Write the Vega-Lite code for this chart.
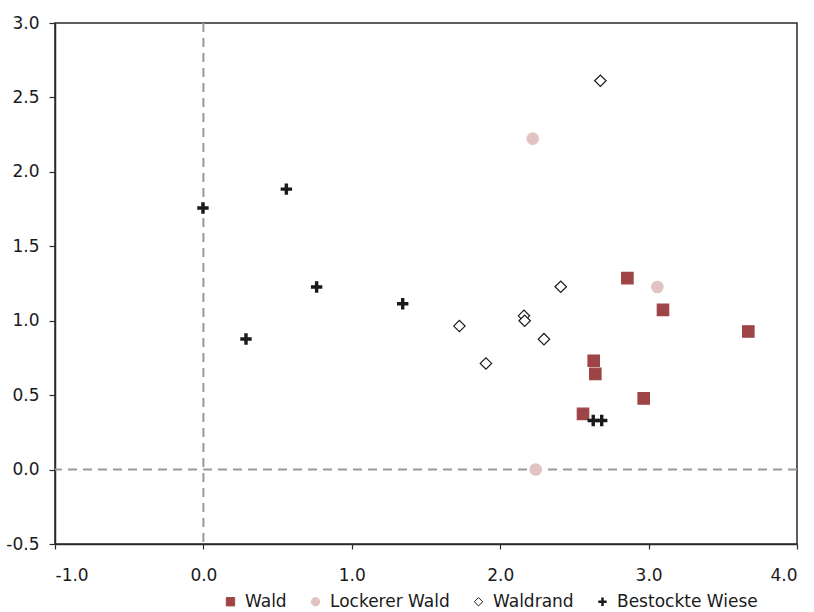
{
  "$schema": "https://vega.github.io/schema/vega-lite/v6.json",
  "width": 742,
  "height": 521,
  "autosize": {"type": "none"},
  "padding": {"left": 55, "top": 23, "right": 17, "bottom": 68},
  "config": {
    "font": "DejaVu Sans",
    "view": {"stroke": "#2a2a2a", "strokeWidth": 1.5},
    "axis": {
      "grid": false,
      "domainColor": "#2a2a2a",
      "domainWidth": 1.5,
      "tickColor": "#2a2a2a",
      "tickWidth": 1.2,
      "labelFont": "DejaVu Sans",
      "labelFontSize": 17,
      "labelColor": "#1a1a1a",
      "title": null
    },
    "legend": {"labelFont": "DejaVu Sans", "labelFontSize": 17, "labelColor": "#1a1a1a"}
  },
  "layer": [
    {
      "data": {"values": [{"v": 0}]},
      "mark": {"type": "rule", "color": "#9a9a9a", "strokeWidth": 2, "strokeDash": [9, 6]},
      "encoding": {"x": {"field": "v", "type": "quantitative", "title": null}}
    },
    {
      "data": {"values": [{"v": 0}]},
      "mark": {"type": "rule", "color": "#9a9a9a", "strokeWidth": 2, "strokeDash": [9, 6]},
      "encoding": {"y": {"field": "v", "type": "quantitative", "title": null}}
    },
    {
      "data": {
        "values": [
          {"typ": "Wald", "x": 2.857, "y": 1.286},
          {"typ": "Wald", "x": 3.097, "y": 1.073},
          {"typ": "Wald", "x": 3.672, "y": 0.928},
          {"typ": "Wald", "x": 2.630, "y": 0.731},
          {"typ": "Wald", "x": 2.641, "y": 0.643},
          {"typ": "Wald", "x": 2.967, "y": 0.478},
          {"typ": "Wald", "x": 2.558, "y": 0.374},
          {"typ": "Lockerer Wald", "x": 2.219, "y": 2.223},
          {"typ": "Lockerer Wald", "x": 3.059, "y": 1.226},
          {"typ": "Lockerer Wald", "x": 2.239, "y": 0.0},
          {"typ": "Waldrand", "x": 2.675, "y": 2.612},
          {"typ": "Waldrand", "x": 2.408, "y": 1.228},
          {"typ": "Waldrand", "x": 2.160, "y": 1.033},
          {"typ": "Waldrand", "x": 2.165, "y": 1.0},
          {"typ": "Waldrand", "x": 1.725, "y": 0.964},
          {"typ": "Waldrand", "x": 2.295, "y": 0.876},
          {"typ": "Waldrand", "x": 1.904, "y": 0.713},
          {"typ": "Bestockte Wiese", "x": -0.003, "y": 1.757},
          {"typ": "Bestockte Wiese", "x": 0.559, "y": 1.884},
          {"typ": "Bestockte Wiese", "x": 0.763, "y": 1.226},
          {"typ": "Bestockte Wiese", "x": 1.343, "y": 1.114},
          {"typ": "Bestockte Wiese", "x": 0.287, "y": 0.877},
          {"typ": "Bestockte Wiese", "x": 2.627, "y": 0.33},
          {"typ": "Bestockte Wiese", "x": 2.684, "y": 0.33}
        ]
      },
      "mark": {"type": "point", "opacity": 1, "fillOpacity": 1, "strokeOpacity": 1, "strokeWidth": 1.2, "size": 130},
      "encoding": {
        "x": {
          "field": "x",
          "type": "quantitative",
          "title": null,
          "scale": {"domain": [-1, 4], "nice": false, "zero": false},
          "axis": {"values": [-1, 0, 1, 2, 3, 4], "labelExpr": "replace(format(datum.value, '.1f'), '\u2212', '-')", "tickSize": 5, "labelPadding": 18}
        },
        "y": {
          "field": "y",
          "type": "quantitative",
          "title": null,
          "scale": {"domain": [-0.5, 3], "nice": false, "zero": false},
          "axis": {"values": [-0.5, 0, 0.5, 1, 1.5, 2, 2.5, 3], "labelExpr": "replace(format(datum.value, '.1f'), '\u2212', '-')", "tickSize": 6, "labelPadding": 10}
        },
        "shape": {
          "field": "typ",
          "type": "nominal",
          "sort": ["Wald", "Lockerer Wald", "Waldrand", "Bestockte Wiese"],
          "scale": {"domain": ["Wald", "Lockerer Wald", "Waldrand", "Bestockte Wiese"], "range": ["square", "circle", "diamond", "M-1,-0.3H-0.3V-1H0.3V-0.3H1V0.3H0.3V1H-0.3V0.3H-1Z"]},
          "legend": {"orient": "none", "legendX": 167, "legendY": 570, "direction": "horizontal", "title": null, "symbolSize": 70, "columnPadding": 20, "labelOffset": 6, "padding": 0, "symbolStrokeWidth": 1}
        },
        "fill": {
          "field": "typ",
          "type": "nominal",
          "sort": ["Wald", "Lockerer Wald", "Waldrand", "Bestockte Wiese"],
          "scale": {"domain": ["Wald", "Lockerer Wald", "Waldrand", "Bestockte Wiese"], "range": ["#9e4447", "#e3c3c2", "#ffffff", "#1a1a1a"]},
          "legend": {"orient": "none", "legendX": 167, "legendY": 570, "direction": "horizontal", "title": null, "symbolSize": 70, "columnPadding": 20, "labelOffset": 6, "padding": 0, "symbolStrokeWidth": 1}
        },
        "stroke": {
          "field": "typ",
          "type": "nominal",
          "sort": ["Wald", "Lockerer Wald", "Waldrand", "Bestockte Wiese"],
          "scale": {"domain": ["Wald", "Lockerer Wald", "Waldrand", "Bestockte Wiese"], "range": ["#9e4447", "#e3c3c2", "#1a1a1a", "transparent"]},
          "legend": {"orient": "none", "legendX": 167, "legendY": 570, "direction": "horizontal", "title": null, "symbolSize": 70, "columnPadding": 20, "labelOffset": 6, "padding": 0, "symbolStrokeWidth": 1}
        }
      }
    }
  ]
}
